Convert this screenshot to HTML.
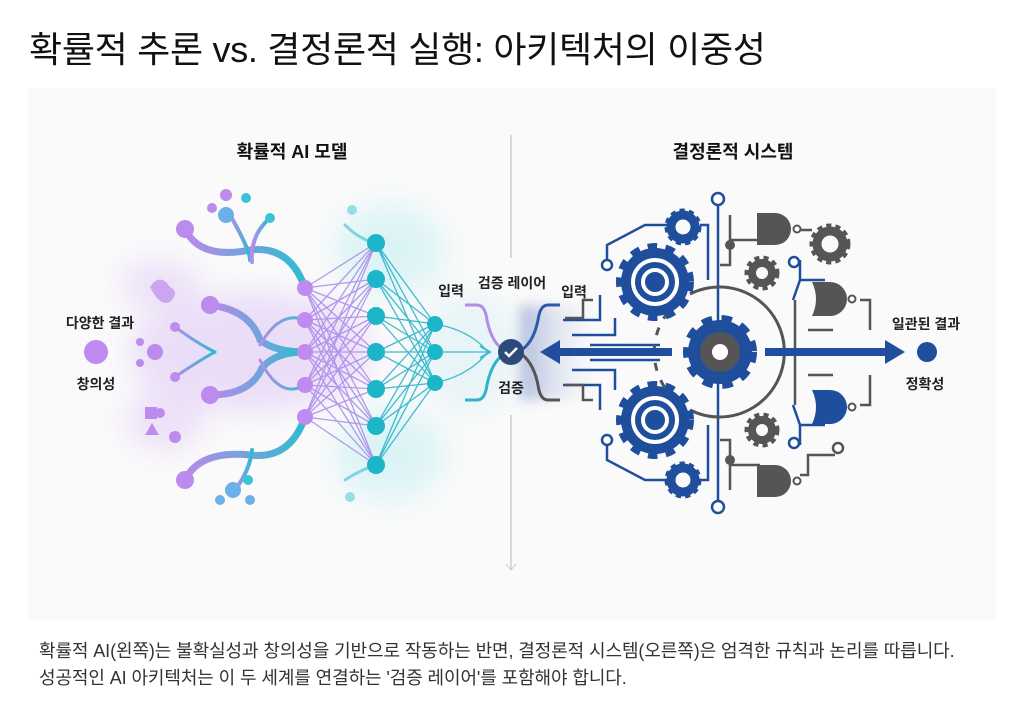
<!DOCTYPE html>
<html><head><meta charset="utf-8"><style>
html,body{margin:0;padding:0;background:#fff;width:1024px;height:709px;overflow:hidden;font-family:"Liberation Sans","Noto Sans CJK KR",sans-serif;}
.t{position:absolute;left:29px;top:21px;font-size:36px;color:#111;letter-spacing:-0.3px;white-space:nowrap}
.cap{position:absolute;left:39px;font-size:18px;color:#333;white-space:nowrap;letter-spacing:-0.1px}
svg{position:absolute;left:0;top:0}
</style></head><body>
<svg width="1024" height="709" viewBox="0 0 1024 709" font-family="Liberation Sans, Noto Sans CJK KR, sans-serif">
<defs>
<filter id="b" x="-50%" y="-50%" width="200%" height="200%"><feGaussianBlur stdDeviation="14"/></filter>
<filter id="b2" x="-50%" y="-50%" width="200%" height="200%"><feGaussianBlur stdDeviation="6"/></filter>
<linearGradient id="lg" x1="0" x2="1"><stop offset="0" stop-color="#b98ae8"/><stop offset="1" stop-color="#2ebcd0"/></linearGradient>
<linearGradient id="bl" x1="0" x2="1"><stop offset="0" stop-color="#7f93c8"/><stop offset="1" stop-color="#fff" stop-opacity="0"/></linearGradient>
</defs>
<rect x="28" y="88" width="968" height="532" fill="#fafafa"/>
<g filter="url(#b)" opacity="0.5">
<ellipse cx="250" cy="352" rx="120" ry="60" fill="#dcc2f5"/>
<ellipse cx="390" cy="250" rx="55" ry="45" fill="#bfeef3"/>
<ellipse cx="390" cy="455" rx="55" ry="45" fill="#bfeef3"/>
<ellipse cx="470" cy="352" rx="50" ry="60" fill="#d7eff6"/>
<ellipse cx="160" cy="285" rx="40" ry="25" fill="#e0c8f7"/>
<ellipse cx="165" cy="420" rx="40" ry="30" fill="#e0c8f7"/>
</g>
<rect x="520" y="305" width="90" height="95" fill="url(#bl)" opacity="0.6" filter="url(#b2)"/>
<line x1="511" y1="135" x2="511" y2="258" stroke="#ccc" stroke-width="1.5"/>
<line x1="511" y1="415" x2="511" y2="570" stroke="#ccc" stroke-width="1.5"/>
<path d="M506 564 L511 570 L516 564" fill="none" stroke="#ccc"/>
<text x="292" y="158" font-size="18" font-weight="bold" text-anchor="middle" fill="#111">확률적 AI 모델</text>
<text x="733" y="158" font-size="18" font-weight="bold" text-anchor="middle" fill="#111">결정론적 시스템</text>
<g fill="none" stroke="url(#lg)" stroke-linecap="round">
<path d="M185 229 Q200 260 250 250 Q290 245 305 288" stroke-width="7"/>
<path d="M230 215 Q250 250 250 260" stroke-width="4"/>
<path d="M270 218 Q250 235 252 262" stroke-width="4"/>
<path d="M210 305 Q250 310 260 340 Q275 352 305 352" stroke-width="7"/>
<path d="M160 352 L305 352" stroke-width="4"/>
<path d="M175 327 Q200 345 215 352" stroke-width="3"/>
<path d="M175 377 Q200 360 215 352" stroke-width="3"/>
<path d="M210 395 Q250 395 262 368 Q275 352 305 352" stroke-width="7"/>
<path d="M185 480 Q200 450 250 455 Q290 460 305 417" stroke-width="7"/>
<path d="M235 490 Q250 470 252 450" stroke-width="4"/>
<path d="M260 360 Q280 400 305 385" stroke-width="3"/>
<path d="M260 345 Q280 310 305 320" stroke-width="3"/>
<path d="M345 225 Q360 240 376 243" stroke-width="3" stroke="#7fd4e0"/>
<path d="M345 480 Q360 470 376 465" stroke-width="3" stroke="#7fd4e0"/>
</g>
<g fill="#bb8bed">
<circle cx="185" cy="229" r="9"/><circle cx="210" cy="305" r="9"/><circle cx="210" cy="395" r="9"/><circle cx="185" cy="480" r="9"/>
<circle cx="155" cy="352" r="8"/><circle cx="175" cy="327" r="5"/><circle cx="175" cy="377" r="5"/><circle cx="140" cy="342" r="4"/><circle cx="140" cy="363" r="4"/>
<circle cx="226" cy="195" r="6"/><circle cx="212" cy="208" r="5"/><circle cx="160" cy="413" r="5"/><circle cx="175" cy="437" r="6"/>
<path d="M145 407 h12 v12 h-12z M152 423 l7 12 h-14z"/>
<path d="M150 287 q10 -15 20 0 q10 5 0 15 q-10 5 -20 -15z" opacity="0.7"/>
</g>
<g fill="#6bb0e6"><circle cx="226" cy="215" r="8"/><circle cx="233" cy="490" r="8"/><circle cx="250" cy="500" r="5"/><circle cx="220" cy="500" r="5"/></g>
<g fill="#3cc3d6"><circle cx="246" cy="198" r="5"/><circle cx="270" cy="218" r="5"/><circle cx="248" cy="480" r="5"/><circle cx="352" cy="210" r="5" opacity=".5"/><circle cx="350" cy="497" r="5" opacity=".5"/></g>
<g stroke-width="1.3" opacity="0.85">
<g stroke="#a888e8">
<path d="M305 288 L376 243 M305 288 L376 279 M305 288 L376 316 M305 288 L376 352 M305 288 L376 389 M305 288 L376 426 M305 288 L376 465"/>
<path d="M305 320 L376 243 M305 320 L376 279 M305 320 L376 316 M305 320 L376 352 M305 320 L376 389 M305 320 L376 426 M305 320 L376 465"/>
<path d="M305 352 L376 243 M305 352 L376 279 M305 352 L376 316 M305 352 L376 352 M305 352 L376 389 M305 352 L376 426 M305 352 L376 465"/>
<path d="M305 385 L376 243 M305 385 L376 279 M305 385 L376 316 M305 385 L376 352 M305 385 L376 389 M305 385 L376 426 M305 385 L376 465"/>
<path d="M305 417 L376 243 M305 417 L376 279 M305 417 L376 316 M305 417 L376 352 M305 417 L376 389 M305 417 L376 426 M305 417 L376 465"/>
</g>
<g stroke="#1fb1c6">
<path d="M376 243 L435 324 M376 243 L435 352 M376 243 L435 383 M376 279 L435 324 M376 279 L435 352 M376 279 L435 383 M376 316 L435 324 M376 316 L435 352 M376 316 L435 383 M376 352 L435 324 M376 352 L435 352 M376 352 L435 383 M376 389 L435 324 M376 389 L435 352 M376 389 L435 383 M376 426 L435 324 M376 426 L435 352 M376 426 L435 383 M376 465 L435 324 M376 465 L435 352 M376 465 L435 383"/>
<path d="M435 324 Q470 330 488 352 M435 352 L488 352 M435 383 Q470 375 488 352" fill="none"/>
<path d="M480 346 L490 352 L480 358" fill="none" stroke-width="2"/>
</g>
</g>
<g fill="#c08af0"><circle cx="305" cy="288" r="8"/><circle cx="305" cy="320" r="8"/><circle cx="305" cy="352" r="8"/><circle cx="305" cy="385" r="8"/><circle cx="305" cy="417" r="8"/></g>
<g fill="#1db5c8"><circle cx="376" cy="243" r="9"/><circle cx="376" cy="279" r="9"/><circle cx="376" cy="316" r="9"/><circle cx="376" cy="352" r="9"/><circle cx="376" cy="389" r="9"/><circle cx="376" cy="426" r="9"/><circle cx="376" cy="465" r="9"/>
<circle cx="435" cy="324" r="8"/><circle cx="435" cy="352" r="8"/><circle cx="435" cy="383" r="8"/></g>
<circle cx="96" cy="352" r="12" fill="#c08af0"/>
<text x="100" y="328" font-size="14" font-weight="bold" text-anchor="middle" fill="#222">다양한 결과</text>
<text x="96" y="389" font-size="14" font-weight="bold" text-anchor="middle" fill="#222">창의성</text>
<path d="M465 305 h12 q8 0 10 15 q5 25 20 32" fill="none" stroke="#b58be6" stroke-width="3"/>
<path d="M465 400 h12 q8 0 10 -15 q5 -25 20 -33" fill="none" stroke="#2eb4c8" stroke-width="3"/>
<path d="M560 305 h-12 q-8 0 -10 15 q-5 25 -20 32" fill="none" stroke="#2d5aa8" stroke-width="3"/>
<path d="M560 400 h-12 q-8 0 -10 -15 q-5 -25 -20 -33" fill="none" stroke="#555" stroke-width="3"/>
<circle cx="511" cy="352" r="13" fill="#2c4a7a"/>
<path d="M505 352 l4 4 l8 -8" fill="none" stroke="#fff" stroke-width="2.5"/>
<text x="451" y="296" font-size="14" font-weight="bold" text-anchor="middle" fill="#222">입력</text>
<text x="512" y="288" font-size="14" font-weight="bold" text-anchor="middle" fill="#222">검증 레이어</text>
<text x="574" y="297" font-size="14" font-weight="bold" text-anchor="middle" fill="#222">입력</text>
<text x="511" y="393" font-size="14" font-weight="bold" text-anchor="middle" fill="#222">검증</text>
<g fill="none" stroke-width="2.5">
<g stroke="#1f4e9c">
<path d="M718 205 V500"/>
<path d="M563 320 H600 V295 M572 335 H615 V318 M590 345 H660 M590 360 H660 M572 370 H615 V390 M563 385 H600 V410"/>
<path d="M607 265 V245 L645 225 H670 M607 440 V460 L645 480 H670"/>
<path d="M700 225 H708 V280 M700 480 H708 V425"/>
<path d="M793 300 L800 280 V260 M800 280 H825 M793 405 L800 425 V445 M800 425 H825"/>
</g>
<g stroke="#555">
<path d="M730 215 V240 H760 M730 240 V265 H720"/>
<path d="M730 490 V465 H760 M730 465 V440 H720"/>
<path d="M795 300 V360 M795 405 V345"/>
<path d="M860 300 H870 V330 M860 405 H870 V375"/>
<path d="M800 230 H812 M800 475 H808 V455 H835"/>
<path d="M808 330 h25 M808 375 h25"/>
<path d="M593 300 H583 V318 H565 M593 400 H583 V385 H565"/>
<path d="M690 294 A65 65 0 1 1 690 410" stroke-width="3"/>
<path d="M668 312 A65 65 0 0 0 668 392" stroke-width="3" stroke-dasharray="8 10"/>
</g>
</g>
<g fill="#fff" stroke="#1f4e9c" stroke-width="2.5"><circle cx="718" cy="199" r="6"/><circle cx="718" cy="507" r="6"/><circle cx="607" cy="265" r="5"/><circle cx="607" cy="440" r="5"/><circle cx="794" cy="262" r="5"/><circle cx="794" cy="443" r="5"/></g>
<g fill="#fff" stroke="#555" stroke-width="2.5"><circle cx="838" cy="448" r="5"/></g>
<g fill="#555"><circle cx="730" cy="245" r="5"/><circle cx="730" cy="460" r="5"/></g>
<g>
<circle cx="655" cy="282" r="34" fill="#1f4e9c" stroke="#1f4e9c" stroke-width="10" stroke-dasharray="9 8"/>
<circle cx="655" cy="282" r="22" fill="none" stroke="#fff" stroke-width="4"/><circle cx="655" cy="282" r="12" fill="none" stroke="#fff" stroke-width="4"/>
<circle cx="655" cy="420" r="34" fill="#1f4e9c" stroke="#1f4e9c" stroke-width="10" stroke-dasharray="9 8"/>
<circle cx="655" cy="420" r="22" fill="none" stroke="#fff" stroke-width="4"/><circle cx="655" cy="420" r="12" fill="none" stroke="#fff" stroke-width="4"/>
<circle cx="720" cy="352" r="32" fill="#1f4e9c" stroke="#1f4e9c" stroke-width="10" stroke-dasharray="10 9"/>
<circle cx="720" cy="352" r="20" fill="#555"/><circle cx="720" cy="352" r="8" fill="#fff"/>
<circle cx="683" cy="227" r="12" fill="none" stroke="#1f4e9c" stroke-width="9"/><circle cx="683" cy="227" r="16" fill="none" stroke="#1f4e9c" stroke-width="5" stroke-dasharray="5 4"/>
<circle cx="683" cy="480" r="12" fill="none" stroke="#1f4e9c" stroke-width="9"/><circle cx="683" cy="480" r="16" fill="none" stroke="#1f4e9c" stroke-width="5" stroke-dasharray="5 4"/>
<circle cx="830" cy="244" r="13" fill="none" stroke="#555" stroke-width="9"/><circle cx="830" cy="244" r="18" fill="none" stroke="#555" stroke-width="5" stroke-dasharray="5 4"/>
<circle cx="762" cy="273" r="10" fill="none" stroke="#555" stroke-width="8"/><circle cx="762" cy="273" r="15" fill="none" stroke="#555" stroke-width="5" stroke-dasharray="5 4"/>
<circle cx="762" cy="430" r="10" fill="none" stroke="#555" stroke-width="8"/><circle cx="762" cy="430" r="15" fill="none" stroke="#555" stroke-width="5" stroke-dasharray="5 4"/>
</g>
<g fill="#555">
<path d="M757 213 h18 a16 16 0 0 1 0 32 h-18z"/><circle cx="797" cy="229" r="3.5" fill="#fff" stroke="#555" stroke-width="2"/>
<path d="M812 282 h18 a17 17 0 0 1 0 34 h-18 q8 -17 0 -34z"/><circle cx="852" cy="299" r="3.5" fill="#fff" stroke="#555" stroke-width="2"/>
<path d="M757 465 h18 a16 16 0 0 1 0 32 h-18z"/><circle cx="797" cy="481" r="3.5" fill="#fff" stroke="#555" stroke-width="2"/>
<path d="M812 390 h18 a17 17 0 0 1 0 34 h-18 q8 -17 0 -34z" fill="#1f4e9c"/><circle cx="852" cy="407" r="3.5" fill="#fff" stroke="#555" stroke-width="2"/>
</g>
<path d="M672 348 H560 V340 L540 352 L560 364 V356 H672z" fill="#1f4e9c"/>
<path d="M765 348 H885 V340 L905 352 L885 364 V356 H765z" fill="#1f4e9c"/>
<circle cx="927" cy="352" r="10" fill="#1f4e9c"/>
<text x="926" y="329" font-size="14" font-weight="bold" text-anchor="middle" fill="#222">일관된 결과</text>
<text x="925" y="389" font-size="14" font-weight="bold" text-anchor="middle" fill="#222">정확성</text>
</svg>
<div class="t">확률적 추론 vs. 결정론적 실행: 아키텍처의 이중성</div>
<div class="cap" style="top:637px">확률적 AI(왼쪽)는 불확실성과 창의성을 기반으로 작동하는 반면, 결정론적 시스템(오른쪽)은 엄격한 규칙과 논리를 따릅니다.</div>
<div class="cap" style="top:664px">성공적인 AI 아키텍처는 이 두 세계를 연결하는 '검증 레이어'를 포함해야 합니다.</div>
</body></html>
